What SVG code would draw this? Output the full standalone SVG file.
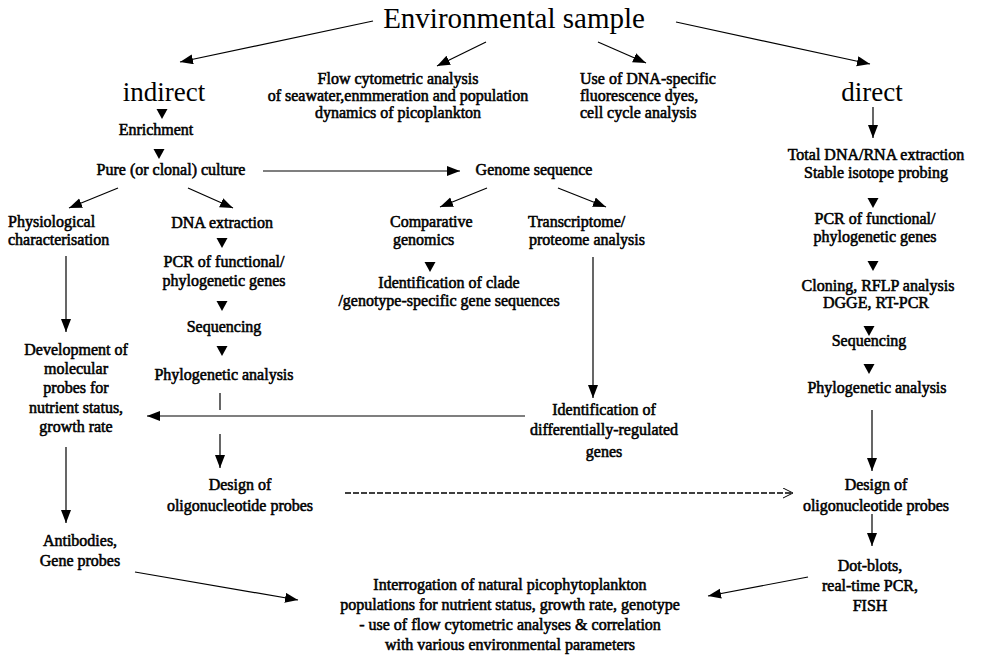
<svg xmlns="http://www.w3.org/2000/svg" xmlns:xlink="http://www.w3.org/1999/xlink" width="984" height="662" viewBox="0 0 984 662" font-family="'Liberation Serif', 'DejaVu Serif', serif">
<style>
  text { font-family: "Liberation Serif", "DejaVu Serif", "Times New Roman", serif; fill: #000; }
  .t { font-size: 16px; font-weight: normal; stroke: #000; stroke-width: 0.55; }
  .big { font-size: 29px; }
  .mid { font-size: 27px; }
  .c { text-anchor: middle; }
  .ln { stroke: #000; stroke-width: 1.2; fill: none; }
  .arr { marker-end: url(#ah); }
  .dash { stroke-width: 1.4; stroke-dasharray: 6 2; marker-end: url(#oh); }
</style>
<defs>
  <marker id="ah" markerUnits="userSpaceOnUse" markerWidth="14" markerHeight="11" refX="13" refY="5" orient="auto">
    <path d="M0,0 L13,5 L0,10 z" fill="#000"/>
  </marker>
  <marker id="oh" markerUnits="userSpaceOnUse" markerWidth="12" markerHeight="12" refX="10" refY="5" orient="auto">
    <path d="M0,0 L10,5 L0,10" fill="none" stroke="#000" stroke-width="1"/>
  </marker>
  <path id="tri" d="M-5.5,0 L5.5,0 L0,10 z" fill="#000"/>
</defs>
<rect width="984" height="662" fill="#fff"/>

<g id="connectors">
  <line class="ln arr" x1="373" y1="21" x2="180" y2="62"/>
  <line class="ln arr" x1="486" y1="42" x2="437" y2="66"/>
  <line class="ln arr" x1="598" y1="42" x2="646" y2="63"/>
  <line class="ln arr" x1="676" y1="22" x2="870" y2="64"/>
  <line class="ln arr" x1="873" y1="107" x2="873" y2="138"/>
  <use xlink:href="#tri" x="162" y="109"/>
  <use xlink:href="#tri" x="159" y="149"/>
  <line class="ln arr" x1="263" y1="171" x2="460" y2="171"/>
  <line class="ln arr" x1="118" y1="188" x2="69" y2="208"/>
  <line class="ln arr" x1="188" y1="188" x2="233" y2="208"/>
  <line class="ln arr" x1="487" y1="188" x2="440" y2="207"/>
  <line class="ln arr" x1="558" y1="188" x2="606" y2="207"/>
  <use xlink:href="#tri" x="222" y="238"/>
  <use xlink:href="#tri" x="222" y="301"/>
  <use xlink:href="#tri" x="222" y="346"/>
  <line class="ln" x1="220" y1="393" x2="220" y2="410"/>
  <line class="ln arr" x1="220" y1="434" x2="220" y2="468"/>
  <line class="ln arr" x1="66" y1="256" x2="66" y2="332"/>
  <line class="ln arr" x1="66" y1="447" x2="66" y2="523"/>
  <line class="ln arr" x1="593" y1="257" x2="593" y2="398"/>
  <line class="ln arr" x1="525" y1="416" x2="147" y2="416"/>
  <use xlink:href="#tri" x="430" y="262"/>
  <use xlink:href="#tri" x="873" y="198"/>
  <use xlink:href="#tri" x="873" y="261"/>
  <use xlink:href="#tri" x="869" y="326"/>
  <use xlink:href="#tri" x="869" y="364"/>
  <line class="ln arr" x1="872" y1="410" x2="872" y2="471"/>
  <line class="ln arr" x1="872" y1="514" x2="872" y2="546"/>
  <line class="ln dash" x1="345" y1="493" x2="793" y2="493"/>
  <line class="ln arr" x1="135" y1="572" x2="298" y2="600"/>
  <line class="ln arr" x1="808" y1="577" x2="708" y2="596"/>
</g>

<g id="env"><text class="big c" x="514" y="28">Environmental sample</text></g>
<g id="indirect"><text class="mid c" x="164" y="101">indirect</text></g>
<g id="direct"><text class="mid c" x="872" y="101">direct</text></g>
<g id="flow">
  <text class="t c" x="398" y="84">Flow cytometric analysis</text>
  <text class="t c" x="398" y="101">of seawater,enmmeration and population</text>
  <text class="t c" x="398" y="118">dynamics of picoplankton</text>
</g>
<g id="dyes">
  <text class="t" x="580" y="84">Use of DNA-specific</text>
  <text class="t" x="580" y="101">fluorescence dyes,</text>
  <text class="t" x="580" y="118">cell cycle analysis</text>
</g>
<g id="enrichment"><text class="t c" x="156" y="135">Enrichment</text></g>
<g id="pure"><text class="t c" x="171" y="175">Pure (or clonal) culture</text></g>
<g id="genome"><text class="t c" x="534" y="175">Genome sequence</text></g>
<g id="physio">
  <text class="t" x="8" y="227">Physiological</text>
  <text class="t" x="8" y="245">characterisation</text>
</g>
<g id="dnaext"><text class="t c" x="222" y="228">DNA extraction</text></g>
<g id="pcr-left">
  <text class="t c" x="224" y="267">PCR of functional/</text>
  <text class="t c" x="224" y="286">phylogenetic genes</text>
</g>
<g id="seq-left"><text class="t c" x="224" y="332">Sequencing</text></g>
<g id="phylo-left"><text class="t c" x="224" y="380">Phylogenetic analysis</text></g>
<g id="comparative">
  <text class="t" x="390" y="227">Comparative</text>
  <text class="t" x="393" y="245">genomics</text>
</g>
<g id="transcriptome">
  <text class="t" x="528" y="227">Transcriptome/</text>
  <text class="t" x="529" y="245">proteome analysis</text>
</g>
<g id="clade">
  <text class="t c" x="449" y="288">Identification of clade</text>
  <text class="t c" x="449" y="306">/genotype-specific gene sequences</text>
</g>
<g id="development">
  <text class="t c" x="76" y="355">Development of</text>
  <text class="t c" x="76" y="374">molecular</text>
  <text class="t c" x="76" y="393">probes for</text>
  <text class="t c" x="76" y="413">nutrient status,</text>
  <text class="t c" x="76" y="432">growth rate</text>
</g>
<g id="diffreg">
  <text class="t c" x="604" y="415">Identification of</text>
  <text class="t c" x="604" y="435">differentially-regulated</text>
  <text class="t c" x="604" y="457">genes</text>
</g>
<g id="design-left">
  <text class="t c" x="240" y="490">Design of</text>
  <text class="t c" x="240" y="511">oligonucleotide probes</text>
</g>
<g id="antibodies">
  <text class="t c" x="80" y="546">Antibodies,</text>
  <text class="t c" x="80" y="566">Gene probes</text>
</g>
<g id="total">
  <text class="t c" x="876" y="160">Total DNA/RNA extraction</text>
  <text class="t c" x="876" y="178">Stable isotope probing</text>
</g>
<g id="pcr-right">
  <text class="t c" x="875" y="224">PCR of functional/</text>
  <text class="t c" x="875" y="242">phylogenetic genes</text>
</g>
<g id="cloning">
  <text class="t c" x="878" y="291">Cloning, RFLP analysis</text>
  <text class="t c" x="876" y="308">DGGE, RT-PCR</text>
</g>
<g id="seq-right"><text class="t c" x="869" y="346">Sequencing</text></g>
<g id="phylo-right"><text class="t c" x="877" y="393">Phylogenetic analysis</text></g>
<g id="design-right">
  <text class="t c" x="876" y="490">Design of</text>
  <text class="t c" x="876" y="511">oligonucleotide probes</text>
</g>
<g id="dotblots">
  <text class="t c" x="870" y="571">Dot-blots,</text>
  <text class="t c" x="870" y="591">real-time PCR,</text>
  <text class="t c" x="870" y="611">FISH</text>
</g>
<g id="interrogation">
  <text class="t c" x="510" y="590">Interrogation of natural picophytoplankton</text>
  <text class="t c" x="510" y="610">populations for nutrient status, growth rate, genotype</text>
  <text class="t c" x="510" y="630">- use of flow cytometric analyses &amp; correlation</text>
  <text class="t c" x="510" y="650">with various environmental parameters</text>
</g>
</svg>
